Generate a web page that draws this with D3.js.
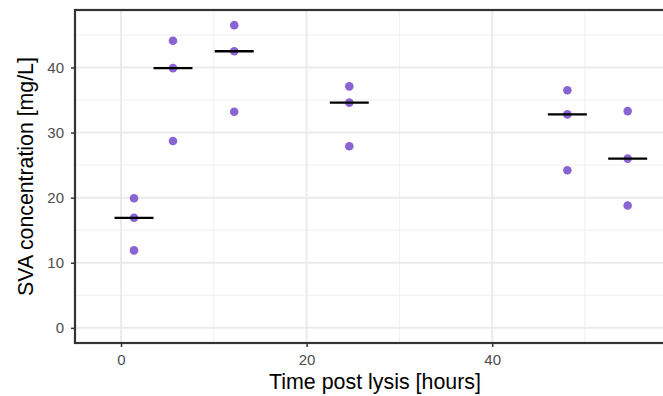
<!DOCTYPE html>
<html><head><meta charset="utf-8">
<script src="https://cdn.jsdelivr.net/npm/d3@7"></script>
<style>body{margin:0;background:#fff}svg{display:block;font-family:"Liberation Sans",Arial,sans-serif}</style>
</head><body><svg id="c" width="663" height="396"></svg>
<script>
const times = [1.4, 5.6, 12.2, 24.6, 48.1, 54.6];
const rep1 = [19.9, 44.1, 46.5, 37.1, 36.5, 33.3];
const rep2 = [16.9, 39.9, 42.5, 34.6, 32.8, 26.0];
const rep3 = [11.9, 28.7, 33.2, 27.9, 24.2, 18.8];
const xTicks = [0, 20, 40];
const xMinor = [10, 30, 50];
const yTicks = [0, 10, 20, 30, 40];
const yMinor = [5, 15, 25, 35, 45];

const svg = d3.select("#c");
const L = 75, R = 675, T = 10, B = 343;
const x = d3.scaleLinear().domain([-4.96, 59.7]).range([L, R]);
const y = d3.scaleLinear().domain([-2.33, 48.83]).range([B, T]);

const g = svg.append("g");
g.selectAll(".xm").data(xMinor).enter().append("line")
  .attr("x1", d => x(d)).attr("x2", d => x(d)).attr("y1", T).attr("y2", B)
  .attr("stroke", "#f0f0f0").attr("stroke-width", 1);
g.selectAll(".ym").data(yMinor).enter().append("line")
  .attr("y1", d => y(d)).attr("y2", d => y(d)).attr("x1", L).attr("x2", R)
  .attr("stroke", "#f0f0f0").attr("stroke-width", 1);
g.selectAll(".xM").data(xTicks).enter().append("line")
  .attr("x1", d => x(d)).attr("x2", d => x(d)).attr("y1", T).attr("y2", B)
  .attr("stroke", "#ebebeb").attr("stroke-width", 2);
g.selectAll(".yM").data(yTicks).enter().append("line")
  .attr("y1", d => y(d)).attr("y2", d => y(d)).attr("x1", L).attr("x2", R)
  .attr("stroke", "#ebebeb").attr("stroke-width", 2);

const data = [];
times.forEach((t, i) => { [rep1[i], rep2[i], rep3[i]].forEach(v => data.push({t, v})); });
svg.selectAll(".pt").data(data).enter().append("circle")
  .attr("cx", d => x(d.t)).attr("cy", d => y(d.v)).attr("r", 4.3)
  .attr("fill", "#8a64d3");

const meds = times.map((t, i) => ({t, m: d3.median([rep1[i], rep2[i], rep3[i]])}));
svg.selectAll(".md").data(meds).enter().append("line")
  .attr("x1", d => x(d.t - 2.1)).attr("x2", d => x(d.t + 2.1))
  .attr("y1", d => y(d.m)).attr("y2", d => y(d.m))
  .attr("stroke", "#000").attr("stroke-width", 2.4);

svg.append("rect").attr("x", L).attr("y", T).attr("width", R - L).attr("height", B - T)
  .attr("fill", "none").attr("stroke", "#333").attr("stroke-width", 2.2);

const xa = svg.append("g").attr("transform", `translate(0,${B})`)
  .call(d3.axisBottom(x).tickValues(xTicks).tickSize(4).tickPadding(7).tickFormat(d3.format("d")));
const ya = svg.append("g").attr("transform", `translate(${L},0)`)
  .call(d3.axisLeft(y).tickValues(yTicks).tickSize(4).tickPadding(7).tickFormat(d3.format("d")));
[xa, ya].forEach(a => {
  a.select(".domain").remove();
  a.selectAll(".tick line").attr("stroke", "#333").attr("stroke-width", 1.5);
  a.selectAll(".tick text").attr("fill", "#4d4d4d").style("font-size", "15px")
   .style("font-family", '"Liberation Sans",Arial,sans-serif');
});

svg.append("text").attr("x", (L + R) / 2).attr("y", 389).attr("text-anchor", "middle")
  .style("font-size", "21.4px").attr("fill", "#000").text("Time post lysis [hours]");
svg.append("text").attr("transform", `translate(33,${(T + B) / 2}) rotate(-90)`)
  .attr("text-anchor", "middle").style("font-size", "21.3px").attr("fill", "#000")
  .text("SVA concentration [mg/L]");
</script></body></html>
